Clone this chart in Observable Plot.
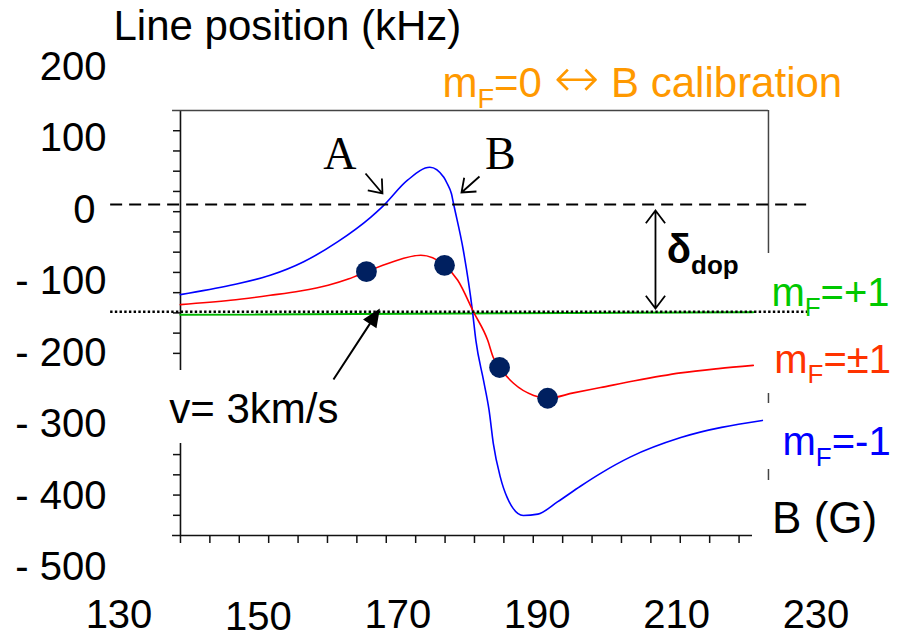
<!DOCTYPE html>
<html>
<head>
<meta charset="utf-8">
<script src="https://cdn.jsdelivr.net/npm/d3@7"></script>
<script src="https://cdn.jsdelivr.net/npm/@observablehq/plot@0.6"></script>
<style>
  html, body { margin: 0; padding: 0; background: #fff; }
  svg { overflow: visible; }
</style>
</head>
<body>
<script>
// ---------- data ----------
// m_F = -1 (blue)
const blueB = [138.8, 146.0, 151.7, 156.5, 161.4, 166.1, 167.8, 171.4, 174.6, 176.6, 177.1, 177.7, 178.0, 179.4, 180.7, 181.2, 182.3, 183.1, 183.7, 184.7, 185.7, 188.0, 190.1, 192.9, 196.2, 199.1, 203.4, 210.6, 222.3];
const blueV = [-126, -113, -99, -80, -52, -18, -3, 34, 52, 38, 29, 15, 1, -64, -148, -190, -246, -288, -334, -381, -410, -435, -433, -416, -394, -376, -353, -326, -302];
// m_F = ±1 (red)
const redB = [138.8, 146.0, 151.7, 156.0, 160.0, 163.0, 165.5, 169.0, 173.3, 176.7, 178.6, 180.9, 182.9, 183.7, 184.6, 186.6, 189.5, 191.5, 195.2, 199.1, 204.0, 210.6, 216.0, 221.0];
const redV = [-140, -134, -127, -121, -113, -104, -94, -81, -71, -85, -106, -151, -190, -214, -228, -250, -267, -271, -263.5, -256, -246.5, -235.5, -229.5, -225];
// m_F = +1 (green)
const greenB = [138.8, 221.0];
const greenV = [-154.3, -150.6];
// measured points
const dotB = [165.5, 176.7, 184.6, 191.5];
const dotV = [-94, -85, -228, -271];
// reference levels (kHz)
const zeroLevel = 0;
const dopplerLevel = -150;
// tick labels
const xLabels = [130, 150, 170, 190, 210, 230];
const yLabels = [200, 100, 0, -100, -200, -300, -400, -500];

// inner (pasted) chart frame, in data units
const frameLeftB = 138.82, frameRightB = 223.18, frameTopV = 131.5, frameBottomV = -462.9;
const leftAxisSpans = [[131.5, -232.2], [-334.3, -462.9]];
const rightFrameSpans = [[131.5, -68.5], [-264.3, -278.3], [-370.6, -386.0]];
const topLineSpan = [137.68, 223.18];
const bottomLineSpan = [137.68, 220.89];
const frameYStep = 28.31, frameXStep = 4.218;
const leftTickV = d3.range(1, 21).map(k => frameTopV - k * frameYStep).filter(v => v > -232.2 || v < -334.3);
const bottomTickB = d3.range(0, 20).map(k => frameLeftB + k * frameXStep);

// ---------- layout ----------
const W = 897, H = 638, mL = 118.5, mR = 81.5, mT = 61, mB = 76.5;
const xDomain = [130, 230], yDomain = [-500, 200];
const sx = d3.scaleLinear(xDomain, [mL, W - mR]);
const sy = d3.scaleLinear(yDomain, [H - mB, mT]);

const zip = (bs, vs) => bs.map((b, i) => ({B: b, v: vs[i]}));
const blue = zip(blueB, blueV), red = zip(redB, redV), green = zip(greenB, greenV), dots = zip(dotB, dotV);

// arrows (data units)
const arrowA = {x1: 165.37, y1: 43.4, x2: 167.8, y2: 15.4};
const arrowB = {x1: 181.72, y1: 39.2, x2: 179.14, y2: 16.8};
const arrowDop = {x1: 206.97, y1: -145.5, x2: 206.97, y2: -8.4};
const arrowV = {x1: 160.77, y1: -244.8, x2: 167.23, y2: -148.3};

function vec(a) {
  const dx = sx(a.x2) - sx(a.x1), dy = sy(a.y2) - sy(a.y1);
  return {length: Math.hypot(dx, dy), rotate: Math.atan2(dx, -dy) * 180 / Math.PI};
}
const rad = Math.PI / 180;
const openHead = (h, half, both) => ({
  draw(ctx, l) {
    const s = h * Math.sin(half * rad), c = h * Math.cos(half * rad);
    ctx.moveTo(0, 0); ctx.lineTo(0, -l);
    ctx.moveTo(-s, -l + c); ctx.lineTo(0, -l); ctx.lineTo(s, -l + c);
    if (both) { ctx.moveTo(-s, -c); ctx.lineTo(0, 0); ctx.lineTo(s, -c); }
  }
});
const filledHead = (h, w) => ({
  draw(ctx, l) {
    ctx.moveTo(0, 0); ctx.lineTo(0, -l + h);
    ctx.moveTo(0, -l); ctx.lineTo(-w, -l + h); ctx.lineTo(w, -l + h); ctx.closePath();
  }
});
function arrowMark(a, shape, extra = {}) {
  const {length, rotate} = vec(a);
  return Plot.vector([a], {x: "x2", y: "y2", length, rotate, anchor: "end", shape,
    stroke: "black", strokeWidth: 1.8, strokeLinecap: "butt", strokeLinejoin: "miter", ...extra});
}

const sans = "'Liberation Sans', Arial, sans-serif";
const serif = "'Liberation Serif', 'Times New Roman', serif";
const label = (t, B, v, o = {}) => Plot.text([t], {x: () => B, y: () => v, text: d => d,
  textAnchor: "start", lineAnchor: "bottom", fontFamily: sans, fontSize: 41, fill: "black", ...o});

const plot = Plot.plot({
  width: W, height: H,
  marginLeft: mL, marginRight: mR, marginTop: mT, marginBottom: mB,
  x: {domain: xDomain},
  y: {domain: yDomain},
  style: {fontFamily: sans, background: "white", color: "black"},
  marks: [
    // inner frame
    Plot.ruleX(leftAxisSpans, {x: () => frameLeftB, y1: d => d[0], y2: d => d[1], stroke: "#111", strokeWidth: 1.6}),
    Plot.ruleX(rightFrameSpans, {x: () => frameRightB, y1: d => d[0], y2: d => d[1], stroke: "#444", strokeWidth: 1.5}),
    Plot.ruleY([frameTopV], {x1: topLineSpan[0], x2: topLineSpan[1], stroke: "#444", strokeWidth: 1.5}),
    Plot.ruleY([frameBottomV], {x1: bottomLineSpan[0], x2: bottomLineSpan[1], stroke: "#111", strokeWidth: 1.6}),
    Plot.ruleY(leftTickV, {x1: frameLeftB - 1.0, x2: frameLeftB, stroke: "#111", strokeWidth: 1.5}),
    Plot.ruleX(bottomTickB, {y1: frameBottomV, y2: frameBottomV - 11.2, stroke: "#111", strokeWidth: 1.5}),
    // curves
    Plot.line(green, {x: "B", y: "v", stroke: "#00b400", strokeWidth: 2}),
    Plot.line(blue, {x: "B", y: "v", stroke: "#0000ff", strokeWidth: 1.6, curve: "monotone-x"}),
    Plot.line(red, {x: "B", y: "v", stroke: "#ff0000", strokeWidth: 1.6, curve: "monotone-x"}),
    Plot.dot(dots, {x: "B", y: "v", r: 10.4, fill: "#002060", stroke: "none"}),
    // reference levels
    Plot.ruleY([zeroLevel], {x1: 128.8, x2: 228.9, stroke: "black", strokeWidth: 2, strokeDasharray: "12,7"}),
    Plot.ruleY([dopplerLevel], {x1: 128.8, x2: 228.8, stroke: "black", strokeWidth: 2.4, strokeDasharray: "2.4,2.3"}),
    // arrows
    arrowMark(arrowA, openHead(15, 38)),
    arrowMark(arrowB, openHead(15, 38)),
    arrowMark(arrowDop, openHead(16, 37, true)),
    arrowMark(arrowV, filledHead(15, 6.5), {fill: "black", strokeWidth: 2}),
    // axes (labels only)
    Plot.axisY(yLabels, {anchor: "left", tickSize: 0, tickPadding: 12.5, dy: 5.5, fontSize: 40, label: null,
      tickFormat: d => d < 0 ? `- ${-d}` : d === 0 ? "0\u00a0" : `${d}`}),
    Plot.axisX(xLabels.filter(d => d !== 150), {anchor: "bottom", tickSize: 0, tickPadding: 38, fontSize: 40, label: null}),
    Plot.axisX([150], {anchor: "bottom", tickSize: 0, tickPadding: 38, dy: 2, fontSize: 40, label: null}),
    // texts
    label("Line position (kHz)", 129.21, 229.4, {fontSize: 42}),
    label("m_{F}=0 \u2194 B calibration", 176.4, 149.7, {fill: "#ff9900", fontSize: 42}),
    label("A", 159.3, 50.3, {fontFamily: serif, fontSize: 46}),
    label("B", 182.5, 50.3, {fontFamily: serif, fontSize: 46}),
    label("\u03b4_{dop}", 208.6, -82.5, {fontWeight: "bold", fontSize: 40}),
    label("m_{F}=+1", 223.6, -141.3, {fill: "#00c800", fontSize: 40}),
    label("m_{F}=\u00b11", 224.0, -235.0, {fill: "#ff3300", fontSize: 40}),
    label("m_{F}=-1", 225.2, -351.0, {fill: "#0000ff", fontSize: 40}),
    label("B (G)", 223.7, -460.1, {fontSize: 44}),
    label("v= 3km/s", 137.2, -304.9, {fontSize: 42})
  ]
});

// render "_{...}" as subscripts and the double arrow in a wider glyph
function richText(root) {
  const ns = "http://www.w3.org/2000/svg";
  root.querySelectorAll("text").forEach(el => {
    const s = el.textContent;
    if (!s.includes("_{") && !s.includes("\u2194")) return;
    while (el.firstChild) el.removeChild(el.firstChild);
    const re = /_\{([^}]*)\}|\u2194/g;
    const parts = [];
    let last = 0, m;
    while ((m = re.exec(s))) {
      parts.push({t: s.slice(last, m.index)});
      if (m[0] === "\u2194") parts.push({t: "\u2194", arrow: true});
      else parts.push({t: m[1], sub: true});
      last = re.lastIndex;
    }
    parts.push({t: s.slice(last)});
    let prevSub = false;
    for (const p of parts) {
      if (!p.t) continue;
      const ts = document.createElementNS(ns, "tspan");
      ts.textContent = p.t;
      if (p.sub) {
        ts.setAttribute("font-size", "0.65em");
        ts.setAttribute("dy", (0.26 / 0.65).toFixed(3) + "em");
        prevSub = true;
      } else {
        if (prevSub) { ts.setAttribute("dy", "-0.26em"); prevSub = false; }
        if (p.arrow) {
          ts.setAttribute("font-family", "'DejaVu Sans', sans-serif");
          ts.setAttribute("font-weight", "200");
          ts.setAttribute("font-size", "1.3em");
        }
      }
      el.appendChild(ts);
    }
  });
}
richText(plot);
document.body.append(plot);
</script>
</body>
</html>
